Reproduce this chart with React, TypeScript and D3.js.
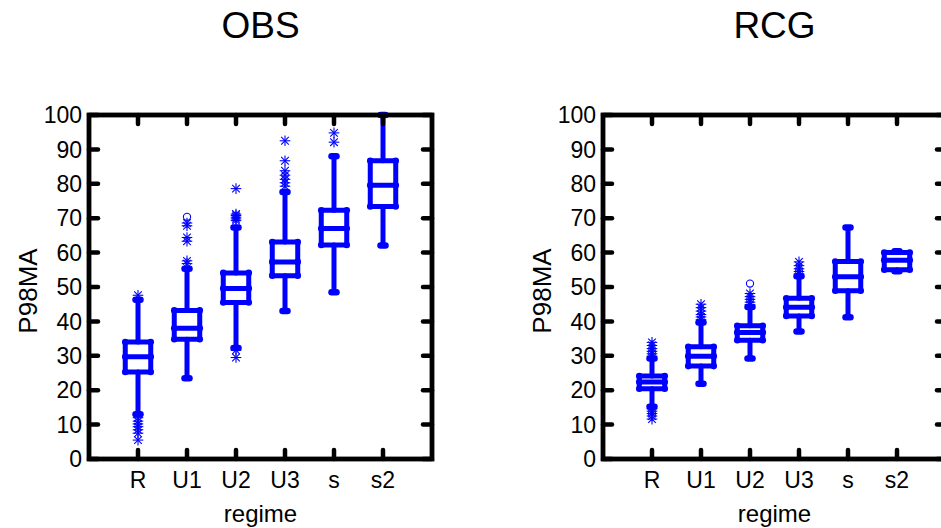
import React from "react";
import * as d3 from "d3";

// Regime categories shared by both panels
const regimes = ["R", "U1", "U2", "U3", "s", "s2"];
const yTicks = [0, 10, 20, 30, 40, 50, 60, 70, 80, 90, 100];

// OBS box statistics per regime
const obsLow = [13, 23.5, 32.3, 43, 48.5, 62.1];
const obsQ1 = [25.3, 34.8, 45.5, 53.3, 62.2, 73.4];
const obsMed = [29.7, 38, 49.6, 57.3, 67, 79.6];
const obsQ3 = [34, 43.2, 54.1, 63.1, 72.3, 86.7];
const obsHigh = [46.3, 55.3, 67.3, 77.6, 88, 100];
const obsStars = [
  [47.6, 12, 11, 10.2, 9.4, 8.5, 7.5, 5.5],
  [56.8, 57.6, 63.3, 64.4, 67.8, 68.6],
  [29.5, 31.6, 69.3, 69.8, 70.3, 70.8, 71.2, 78.6],
  [79.3, 80.3, 81.3, 82.5, 83.8, 86.7, 92.5],
  [92.1, 94.8],
  [],
];
const obsCircles = [[], [70.4], [], [], [], []];

// RCG box statistics per regime
const rcgLow = [15.2, 21.9, 29.2, 37.1, 41.2, 54.6];
const rcgQ1 = [20.4, 27, 34.5, 41.6, 48.9, 55];
const rcgMed = [22.4, 29.9, 36.8, 44.1, 53, 57.8];
const rcgQ3 = [24.1, 32.6, 38.7, 46.7, 57.4, 60];
const rcgHigh = [29.2, 39.7, 44.2, 53.1, 67.3, 60.4];
const rcgStars = [
  [29.9, 30.6, 31.3, 32.1, 33, 33.9, 14.6, 13.9, 13.2, 12.5, 11.6],
  [40.5, 41.3, 42, 43, 44, 45],
  [44.9, 45.6, 46.4, 47.2, 48.1],
  [53.8, 54.5, 55.3, 56.2, 57.3],
  [],
  [],
];
const rcgCircles = [[], [], [51], [], [], []];

const BLUE = "#0000ff";
const FONT = "'Liberation Sans', Arial, Helvetica, sans-serif";

type PanelProps = {
  title: string;
  left: number;
  right: number;
  low: number[];
  q1: number[];
  med: number[];
  q3: number[];
  high: number[];
  stars: number[][];
  circles: number[][];
};

function Star({ x, y }: { x: number; y: number }) {
  const r = 5.3;
  const d = r * 0.72;
  return (
    <g stroke={BLUE} strokeWidth={1.1}>
      <line x1={x} y1={y - r} x2={x} y2={y + r} />
      <line x1={x - r} y1={y} x2={x + r} y2={y} />
      <line x1={x - d} y1={y - d} x2={x + d} y2={y + d} />
      <line x1={x - d} y1={y + d} x2={x + d} y2={y - d} />
    </g>
  );
}

function Panel(p: PanelProps) {
  const top = 115;
  const bottom = 459;
  const x = d3.scaleLinear().domain([0, 7]).range([p.left, p.right]);
  const y = d3.scaleLinear().domain([0, 100]).range([bottom, top]);
  const half = x(0.26) - x(0);
  const lw = 5;
  const tickLen = 9;

  return (
    <g fontFamily={FONT}>
      <text x={(p.left + p.right) / 2} y={38} fontSize={37} textAnchor="middle">
        {p.title}
      </text>

      {/* boxes */}
      {regimes.map((r, i) => {
        const cx = x(i + 1);
        const bl = cx - half;
        const br = cx + half;
        return (
          <g key={r}>
            <g stroke={BLUE} strokeWidth={lw} strokeLinecap="round" strokeLinejoin="round" fill="none">
              <line x1={cx} x2={cx} y1={y(p.q3[i])} y2={y(p.high[i])} />
              <line x1={cx} x2={cx} y1={y(p.q1[i])} y2={y(p.low[i])} />
              <rect x={bl} y={y(p.q3[i])} width={br - bl} height={y(p.q1[i]) - y(p.q3[i])} />
              <line x1={bl} x2={br} y1={y(p.med[i])} y2={y(p.med[i])} />
            </g>
            <g stroke={BLUE} strokeWidth={6.5} strokeLinecap="round">
              <line x1={cx - 2.5} x2={cx + 2.5} y1={y(p.high[i])} y2={y(p.high[i])} />
              <line x1={cx - 2.5} x2={cx + 2.5} y1={y(p.low[i])} y2={y(p.low[i])} />
            </g>
            <g fill={BLUE}>
              {[p.q1[i], p.q3[i], p.med[i]].map((v, k) => (
                <g key={k}>
                  <circle cx={bl} cy={y(v)} r={3.3} />
                  <circle cx={br} cy={y(v)} r={3.3} />
                </g>
              ))}
            </g>
            {p.stars[i].map((v, k) => (
              <Star key={k} x={cx} y={y(v)} />
            ))}
            {p.circles[i].map((v, k) => (
              <circle key={k} cx={cx} cy={y(v)} r={3.6} fill="none" stroke={BLUE} strokeWidth={1.1} />
            ))}
          </g>
        );
      })}

      {/* frame and ticks */}
      <g stroke="#000" strokeLinecap="round">
        <rect x={p.left} y={top} width={p.right - p.left} height={bottom - top} fill="none" strokeWidth={4.8} strokeLinecap="butt" />
        {yTicks.map((t) => (
          <g key={t} strokeWidth={4.5}>
            <line x1={p.left} x2={p.left + tickLen} y1={y(t)} y2={y(t)} />
            <line x1={p.right} x2={p.right - tickLen} y1={y(t)} y2={y(t)} />
          </g>
        ))}
        {regimes.map((r, i) => (
          <g key={r} strokeWidth={4.5}>
            <line x1={x(i + 1)} x2={x(i + 1)} y1={bottom} y2={bottom - tickLen} />
            <line x1={x(i + 1)} x2={x(i + 1)} y1={top} y2={top + tickLen} />
          </g>
        ))}
      </g>

      {/* tick labels */}
      {yTicks.map((t) => (
        <text key={t} x={p.left - 7} y={y(t)} dy="0.36em" fontSize={23} textAnchor="end">
          {t}
        </text>
      ))}
      {regimes.map((r, i) => (
        <text key={r} x={x(i + 1)} y={488} fontSize={23} textAnchor="middle">
          {r}
        </text>
      ))}
      <text x={(p.left + p.right) / 2} y={522} fontSize={24} textAnchor="middle">
        regime
      </text>
      <text
        transform={`translate(${p.left - 52},${(top + bottom) / 2 + 4}) rotate(-90)`}
        fontSize={26}
        textAnchor="middle"
      >
        P98MA
      </text>
    </g>
  );
}

export default function App() {
  return (
    <svg
      width={941}
      height={528}
      style={{ position: "absolute", left: 0, top: 0, background: "#fff" }}
    >
      <rect width={941} height={528} fill="#fff" />
      <Panel
        title="OBS"
        left={89}
        right={432}
        low={obsLow}
        q1={obsQ1}
        med={obsMed}
        q3={obsQ3}
        high={obsHigh}
        stars={obsStars}
        circles={obsCircles}
      />
      <Panel
        title="RCG"
        left={603}
        right={946}
        low={rcgLow}
        q1={rcgQ1}
        med={rcgMed}
        q3={rcgQ3}
        high={rcgHigh}
        stars={rcgStars}
        circles={rcgCircles}
      />
    </svg>
  );
}
